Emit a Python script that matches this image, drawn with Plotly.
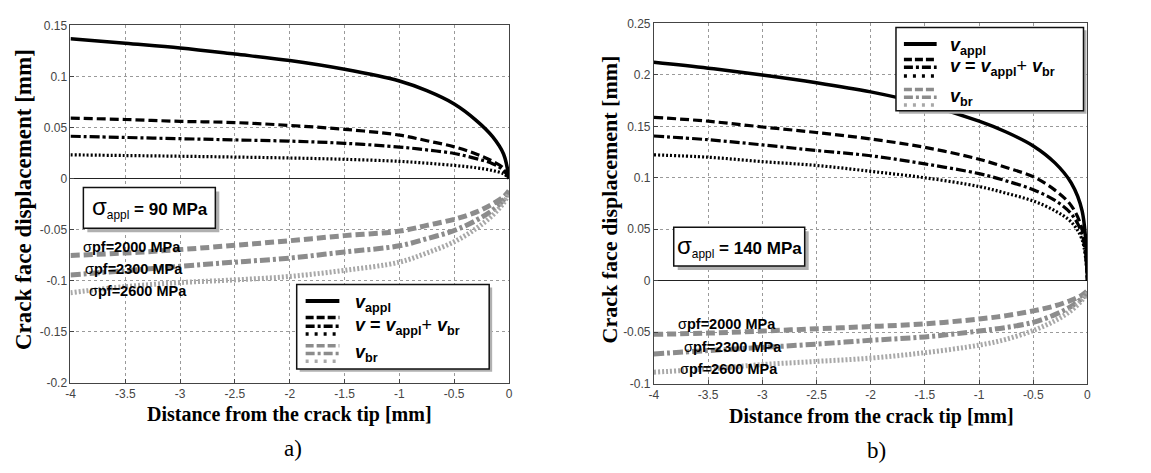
import plotly.graph_objects as go

W, H = 1151, 473

# ---------------- data ----------------
x_pts = [-4, -3.5, -3, -2.5, -2, -1.5, -1, -0.75, -0.5, -0.3, -0.15, -0.05, 0]

# panel a) sigma_appl = 90 MPa
a_appl   = [0.137, 0.1325, 0.128, 0.122, 0.1156, 0.107, 0.0955, 0.086, 0.073, 0.057, 0.041, 0.024, 0.0]
a_v2000  = [0.0592, 0.0578, 0.056, 0.0548, 0.052, 0.0482, 0.0425, 0.037, 0.031, 0.024, 0.017, 0.010, 0.0]
a_v2300  = [0.0414, 0.0402, 0.039, 0.0378, 0.0366, 0.0345, 0.0308, 0.028, 0.0245, 0.0195, 0.0145, 0.008, 0.0]
a_v2600  = [0.0232, 0.0225, 0.0218, 0.021, 0.0201, 0.0188, 0.0168, 0.015, 0.0128, 0.0105, 0.0078, 0.0045, 0.0]
a_br2000 = [-0.0755, -0.073, -0.0697, -0.0655, -0.061, -0.056, -0.0516, -0.046, -0.040, -0.033, -0.025, -0.018, -0.012]
a_br2300 = [-0.0946, -0.0905, -0.086, -0.082, -0.078, -0.072, -0.066, -0.059, -0.051, -0.041, -0.031, -0.021, -0.013]
a_br2600 = [-0.112, -0.106, -0.102, -0.0994, -0.096, -0.090, -0.082, -0.073, -0.062, -0.049, -0.036, -0.024, -0.014]

# panel b) sigma_appl = 140 MPa
b_appl   = [0.2123, 0.2066, 0.200, 0.1925, 0.1835, 0.1715, 0.155, 0.1445, 0.131, 0.1145, 0.095, 0.068, 0.0]
b_v2000  = [0.1588, 0.155, 0.1494, 0.144, 0.1377, 0.1296, 0.118, 0.110, 0.101, 0.088, 0.073, 0.050, 0.0]
b_v2300  = [0.1406, 0.137, 0.132, 0.1265, 0.1214, 0.1135, 0.104, 0.097, 0.0884, 0.078, 0.065, 0.045, 0.0]
b_v2600  = [0.1223, 0.120, 0.1157, 0.112, 0.1063, 0.100, 0.0915, 0.085, 0.0774, 0.068, 0.057, 0.040, 0.0]
b_br2000 = [-0.0522, -0.051, -0.049, -0.0468, -0.0446, -0.042, -0.0373, -0.034, -0.0294, -0.0245, -0.019, -0.014, -0.010]
b_br2300 = [-0.0712, -0.068, -0.0649, -0.0617, -0.058, -0.0547, -0.049, -0.0455, -0.0405, -0.033, -0.025, -0.017, -0.011]
b_br2600 = [-0.089, -0.0858, -0.0816, -0.0785, -0.0753, -0.070, -0.0627, -0.057, -0.0484, -0.039, -0.029, -0.019, -0.012]

x_tickvals = [-4, -3.5, -3, -2.5, -2, -1.5, -1, -0.5, 0]
x_ticktext = ["-4", "-3.5", "-3", "-2.5", "-2", "-1.5", "-1", "-0.5", "0"]
ya_tickvals = [0.15, 0.1, 0.05, 0, -0.05, -0.1, -0.15, -0.2]
ya_ticktext = ["0.15", "0.1", "0.05", "0", "-0.05", "-0.1", "-0.15", "-0.2"]
yb_tickvals = [0.25, 0.2, 0.15, 0.1, 0.05, 0, -0.05, -0.1]
yb_ticktext = ["0.25", "0.2", "0.15", "0.1", "0.05", "0", "-0.05", "-0.1"]

pf_labels = ["σ<b>pf=2000 MPa</b>", "σ<b>pf=2300 MPa</b>", "σ<b>pf=2600 MPa</b>"]

# ---------------- styles ----------------
BLACK = "#000000"
GRAY = "#8c8c8c"
GRAY_L = "#a8a8a8"
DASH = "9px,4px"
DASHDOT = "10px,3px,3px,3px"
DOT = "2px,2px"
SMOOTH = 1.0


def X(px):
    return px / W


def Y(py):
    return 1 - py / H


fig = go.Figure()

panels = [
    ("x", "y", a_appl, [a_v2000, a_v2300, a_v2600], [a_br2000, a_br2300, a_br2600]),
    ("x2", "y2", b_appl, [b_v2000, b_v2300, b_v2600], [b_br2000, b_br2300, b_br2600]),
]
dashes = [DASH, DASHDOT, DOT]
gray_cols = [GRAY, GRAY, GRAY_L]
for xa, ya, appl, vs, brs in panels:
    for br, d, c in zip(brs, dashes, gray_cols):
        fig.add_trace(go.Scatter(x=x_pts, y=br, xaxis=xa, yaxis=ya, mode="lines",
                                 line=dict(color=c, width=5, dash=d, shape="spline", smoothing=SMOOTH),
                                 showlegend=False, hoverinfo="skip"))
    for v, d in zip(vs, dashes):
        fig.add_trace(go.Scatter(x=x_pts, y=v, xaxis=xa, yaxis=ya, mode="lines",
                                 line=dict(color=BLACK, width=3.2, dash=d, shape="spline", smoothing=SMOOTH),
                                 showlegend=False, hoverinfo="skip"))
    fig.add_trace(go.Scatter(x=x_pts, y=appl, xaxis=xa, yaxis=ya, mode="lines",
                             line=dict(color=BLACK, width=3.5, shape="spline", smoothing=SMOOTH),
                             showlegend=False, hoverinfo="skip"))

axis_common = dict(showline=True, mirror=True, linecolor="#444", linewidth=1,
                   showgrid=True, gridcolor="#9a9a9a", griddash="dot", gridwidth=1,
                   ticks="inside", ticklen=4, tickcolor="#444",
                   tickfont=dict(family="Liberation Sans, Arial", size=12, color="#444"))

fig.update_layout(
    width=W, height=H, margin=dict(l=0, r=0, t=0, b=0),
    paper_bgcolor="white", plot_bgcolor="white", showlegend=False,
    xaxis=dict(domain=[X(66), X(508)], range=[-4, 0], tickvals=x_tickvals, ticktext=x_ticktext,
               zeroline=False, anchor="y", **axis_common),
    yaxis=dict(domain=[Y(387), Y(19)], range=[-0.2, 0.15], tickvals=ya_tickvals, ticktext=ya_ticktext,
               zeroline=True, zerolinecolor="#222", zerolinewidth=1, anchor="x", **axis_common),
    xaxis2=dict(domain=[X(654), X(1091)], range=[-4, 0], tickvals=x_tickvals, ticktext=x_ticktext,
                zeroline=False, anchor="y2", **axis_common),
    yaxis2=dict(domain=[Y(388), Y(17)], range=[-0.1, 0.25], tickvals=yb_tickvals, ticktext=yb_ticktext,
                zeroline=True, zerolinecolor="#222", zerolinewidth=1, anchor="x2", **axis_common),
)

shapes = []
annots = []


def box(x0, y0, x1, y1, shadow=4):
    shapes.append(dict(type="rect", xref="paper", yref="paper", layer="above",
                       x0=X(x0 + shadow), x1=X(x1 + shadow), y0=Y(y1 + shadow), y1=Y(y0 + shadow),
                       line=dict(width=0), fillcolor="#b0b0b0"))
    shapes.append(dict(type="rect", xref="paper", yref="paper", layer="above",
                       x0=X(x0), x1=X(x1), y0=Y(y1), y1=Y(y0),
                       line=dict(color="#111", width=1.5), fillcolor="white"))


def seg(x0, x1, y, color, width, dash="solid"):
    shapes.append(dict(type="line", xref="paper", yref="paper", layer="above",
                       x0=X(x0), x1=X(x1), y0=Y(y), y1=Y(y),
                       line=dict(color=color, width=width, dash=dash)))


def text(px, py, s, size, family="Liberation Sans, Arial", color="#000", angle=0, xanchor="center"):
    annots.append(dict(x=X(px), y=Y(py), xref="paper", yref="paper", text=s, showarrow=False,
                       font=dict(family=family, size=size, color=color), textangle=angle,
                       xanchor=xanchor, yanchor="middle"))


def legend(x0, y0, x1, y1, sx0, sx1, tx, ys):
    box(x0, y0, x1, y1, shadow=3)
    y_solid, y_d, y_dd, y_dt, y_gd, y_gdd, y_gdt = ys
    seg(sx0, sx1, y_solid, BLACK, 4)
    seg(sx0, sx1, y_d, BLACK, 3.5, "8px,3px")
    seg(sx0, sx1, y_dd, BLACK, 3.5, "9px,3px,3px,3px")
    seg(sx0, sx1, y_dt, BLACK, 3.5, "3px,6px")
    seg(sx0, sx1, y_gd, GRAY, 3.5, "8px,3px")
    seg(sx0, sx1, y_gdd, GRAY, 3.5, "9px,3px,3px,3px")
    seg(sx0, sx1, y_gdt, GRAY_L, 3.5, "3px,6px")
    text(tx, y_solid + 3, "<b><i>v</i><sub>appl</sub></b>", 18, xanchor="left")
    text(tx, y_dd, "<b><i>v</i> = <i>v</i><sub>appl</sub></b>+ <b><i>v</i><sub>br</sub></b>", 18, xanchor="left")
    text(tx, y_gdd, "<b><i>v</i><sub>br</sub></b>", 18, xanchor="left")


# legends
legend(294, 286, 488, 373, 303, 337, 351, (303, 320, 329, 337, 349, 357, 365))
legend(898, 21, 1087, 107, 906, 939, 950, (38, 54, 62, 71, 85, 93, 101))

# sigma boxes
box(79, 186, 212, 228, shadow=4)
text(146, 207, "<span style='font-size:24px'>σ</span><sub>appl</sub><b> = 90 MPa</b>", 17)
box(674, 227, 806, 267, shadow=4)
text(740, 247, "<span style='font-size:24px'>σ</span><sub>appl</sub><b> = 140 MPa</b>", 17)

# pf labels
for (px, py), s in zip([(77, 247), (79, 270), (83, 293)], pf_labels):
    text(px, py, s, 14.5, xanchor="left")
for (px, py), s in zip([(676, 327), (682, 350), (678, 373)], pf_labels):
    text(px, py, s, 14.5, xanchor="left")

# axis titles
TIMES = "Liberation Serif, Times New Roman"
text(287, 420, "<b>Distance from the crack tip [mm]</b>", 20, family=TIMES)
text(873, 422, "<b>Distance from the crack tip [mm]</b>", 20, family=TIMES)
text(18, 198, "<b>Crack face displacement [mm]</b>", 23, family=TIMES, angle=-90)
text(609, 198, "<b>Crack face displacement [mm]</b>", 22, family=TIMES, angle=-90)

# panel labels
text(290, 455, "a)", 23, family=TIMES)
text(878, 457, "b)", 23, family=TIMES)

fig.update_layout(shapes=shapes, annotations=annots)
fig.write_html("out.html")
